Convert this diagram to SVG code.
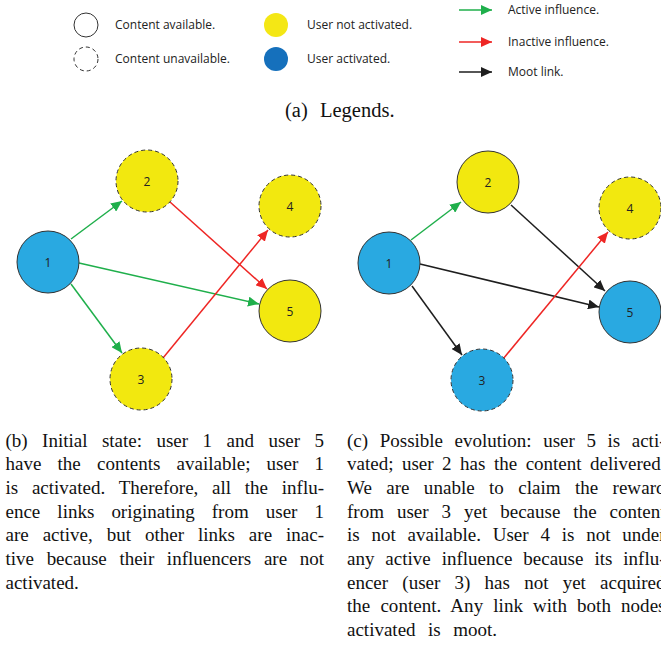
<svg xmlns="http://www.w3.org/2000/svg" width="661" height="645" viewBox="0 0 661 645">
  <style>
    .lbl { font-family: "Open Sans", "Liberation Sans", sans-serif; font-size: 12px; fill: #222; }
    .num { font-family: "Open Sans", "Liberation Sans", sans-serif; font-size: 12px; fill: #222; text-anchor: middle; dominant-baseline: central; }
    .cap { font-family: "Liberation Serif", "Times New Roman", serif; font-size: 19px; fill: #111; }
    .node { stroke: #333; stroke-width: 1; }
    .dash { stroke-dasharray: 4 3; }
    .yel { fill: #F2E80F; }
    .blu { fill: #29A9E1; }
    .green { stroke: #1FAF4B; stroke-width: 1.5; fill: none; }
    .red { stroke: #EE2624; stroke-width: 1.5; fill: none; }
    .black { stroke: #1E1E1E; stroke-width: 1.5; fill: none; }
  </style>
  <defs>
    <marker id="ah-green" markerUnits="userSpaceOnUse" markerWidth="12" markerHeight="10" refX="11" refY="5" orient="auto">
      <path d="M0,0 L11,5 L0,10 z" fill="#1FAF4B"/>
    </marker>
    <marker id="ah-red" markerUnits="userSpaceOnUse" markerWidth="12" markerHeight="10" refX="11" refY="5" orient="auto">
      <path d="M0,0 L11,5 L0,10 z" fill="#EE2624"/>
    </marker>
    <marker id="ah-black" markerUnits="userSpaceOnUse" markerWidth="12" markerHeight="10" refX="11" refY="5" orient="auto">
      <path d="M0,0 L11,5 L0,10 z" fill="#1E1E1E"/>
    </marker>
  </defs>

  <rect width="661" height="645" fill="#fff"/>

  <!-- Legend -->
  <g id="legend">
    <circle cx="86" cy="25" r="12" fill="#fff" stroke="#333" stroke-width="1"/>
    <text class="lbl" x="115" y="29">Content available.</text>
    <circle cx="86" cy="59" r="12" fill="#fff" stroke="#333" stroke-width="1" stroke-dasharray="4 3"/>
    <text class="lbl" x="115" y="63">Content unavailable.</text>
    <circle cx="276" cy="25" r="12" fill="#F4E715"/>
    <text class="lbl" x="307" y="29">User not activated.</text>
    <circle cx="276" cy="59" r="12" fill="#1570BC"/>
    <text class="lbl" x="307" y="63">User activated.</text>
    <line class="green" x1="459" y1="10" x2="492" y2="10" marker-end="url(#ah-green)"/>
    <text class="lbl" x="508" y="14">Active influence.</text>
    <line class="red" x1="459" y1="42" x2="492" y2="42" marker-end="url(#ah-red)"/>
    <text class="lbl" x="508" y="46">Inactive influence.</text>
    <line class="black" x1="459" y1="72" x2="492" y2="72" marker-end="url(#ah-black)"/>
    <text class="lbl" x="508" y="76">Moot link.</text>
    <text class="cap" style="font-size:20.5px" x="285" y="116.5">(a)</text>
    <text class="cap" style="font-size:20.5px" x="320" y="116.5">Legends.</text>
  </g>

  <!-- Panel (b): connectors -->
  <g id="connectors-b">
    <line class="green" x1="71" y1="239" x2="122" y2="201" marker-end="url(#ah-green)"/>
    <line class="red" x1="170" y1="202" x2="267" y2="289" marker-end="url(#ah-red)"/>
    <line class="green" x1="79" y1="263" x2="259" y2="304" marker-end="url(#ah-green)"/>
    <line class="green" x1="71" y1="284" x2="122" y2="353" marker-end="url(#ah-green)"/>
    <line class="red" x1="163" y1="358" x2="268" y2="230" marker-end="url(#ah-red)"/>
  </g>
  <!-- Panel (b): nodes -->
  <g id="b-node1"><circle class="node blu" cx="48" cy="262" r="31"/><text class="num" x="48" y="262">1</text></g>
  <g id="b-node2"><circle class="node dash yel" cx="147" cy="181" r="31"/><text class="num" x="147" y="181">2</text></g>
  <g id="b-node3"><circle class="node dash yel" cx="141" cy="379" r="31"/><text class="num" x="141" y="379">3</text></g>
  <g id="b-node4"><circle class="node dash yel" cx="290" cy="206" r="31"/><text class="num" x="290" y="206">4</text></g>
  <g id="b-node5"><circle class="node yel" cx="290" cy="311" r="31"/><text class="num" x="290" y="311">5</text></g>

  <!-- Panel (c): connectors -->
  <g id="connectors-c">
    <line class="green" x1="411" y1="240" x2="461" y2="202" marker-end="url(#ah-green)"/>
    <line class="black" x1="511" y1="205" x2="605" y2="291" marker-end="url(#ah-black)"/>
    <line class="black" x1="420" y1="264" x2="599" y2="307" marker-end="url(#ah-black)"/>
    <line class="black" x1="412" y1="286" x2="462" y2="355" marker-end="url(#ah-black)"/>
    <line class="red" x1="503" y1="359" x2="608" y2="232" marker-end="url(#ah-red)"/>
  </g>
  <!-- Panel (c): nodes -->
  <g id="c-node1"><circle class="node blu" cx="389" cy="263" r="31"/><text class="num" x="389" y="263">1</text></g>
  <g id="c-node2"><circle class="node yel" cx="488" cy="182" r="31"/><text class="num" x="488" y="182">2</text></g>
  <g id="c-node3"><circle class="node dash blu" cx="482" cy="380" r="31"/><text class="num" x="482" y="380">3</text></g>
  <g id="c-node4"><circle class="node dash yel" cx="630" cy="208" r="31"/><text class="num" x="630" y="208">4</text></g>
  <g id="c-node5"><circle class="node blu" cx="630" cy="312" r="31"/><text class="num" x="630" y="312">5</text></g>

  <!-- Caption (b): justified by word spacing -->
  <g id="caption-b" class="cap">
    <text x="5.5" y="446.5" word-spacing="9.7" textLength="318.5" lengthAdjust="spacing">(b) Initial state: user 1 and user 5</text>
    <text x="5.5" y="470.2" word-spacing="11.46" textLength="318.5" lengthAdjust="spacing">have the contents available; user 1</text>
    <text x="5.5" y="493.9" word-spacing="8.94" textLength="318.5" lengthAdjust="spacing">is activated. Therefore, all the influ-</text>
    <text x="5.5" y="517.6" word-spacing="12.3" textLength="318.5" lengthAdjust="spacing">ence links originating from user 1</text>
    <text x="5.5" y="541.3" word-spacing="9.2" textLength="318.5" lengthAdjust="spacing">are active, but other links are inac-</text>
    <text x="5.5" y="565" word-spacing="7.88" textLength="318.5" lengthAdjust="spacing">tive because their influencers are not</text>
    <text x="5.5" y="588.7">activated.</text>
  </g>

  <!-- Caption (c): justified by word spacing -->
  <g id="caption-c" class="cap">
    <text x="347" y="446.5" word-spacing="6.82" textLength="318.5" lengthAdjust="spacing">(c) Possible evolution: user 5 is acti-</text>
    <text x="347" y="470.2" word-spacing="3.75" textLength="318.5" lengthAdjust="spacing">vated; user 2 has the content delivered.</text>
    <text x="347" y="493.9" word-spacing="9.47" textLength="318.5" lengthAdjust="spacing">We are unable to claim the reward</text>
    <text x="347" y="517.6" word-spacing="8.23" textLength="318.5" lengthAdjust="spacing">from user 3 yet because the content</text>
    <text x="347" y="541.3" word-spacing="7.06" textLength="318.5" lengthAdjust="spacing">is not available. User 4 is not under</text>
    <text x="347" y="565" word-spacing="6.18" textLength="318.5" lengthAdjust="spacing">any active influence because its influ-</text>
    <text x="347" y="588.7" word-spacing="9.47" textLength="318.5" lengthAdjust="spacing">encer (user 3) has not yet acquired</text>
    <text x="347" y="612.4" word-spacing="5.32" textLength="318.5" lengthAdjust="spacing">the content. Any link with both nodes</text>
    <text x="347" y="636.1" word-spacing="7.7">activated is moot.</text>
  </g>
</svg>
